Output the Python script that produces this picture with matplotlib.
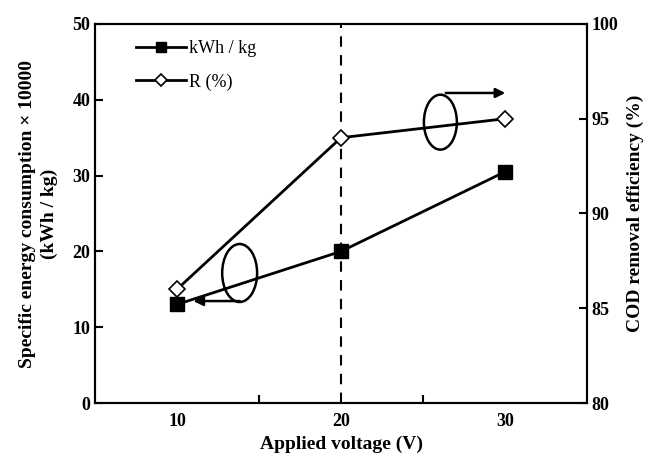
import matplotlib
matplotlib.use("Agg")
import matplotlib.pyplot as plt
from matplotlib.patches import Ellipse

plt.rcParams['font.family'] = ['Liberation Serif', 'DejaVu Serif']

voltage = ['10', '20', '30']
energy = [13.0, 20.0, 30.5]      # kWh/kg x 10000
removal = [86.0, 94.0, 95.0]     # COD removal %

fig = plt.figure(figsize=(6.47, 4.55), dpi=100)
ax = fig.add_axes([95 / 647, 52 / 455, 492 / 647, 379 / 455])
ax2 = ax.twinx()

x = list(range(len(voltage)))
ax.plot(x, energy, color='black', lw=2, marker='s', ms=10, mfc='black',
        mec='black', label='kWh / kg', zorder=3)
ax2.plot(x, removal, color='black', lw=2, marker='D', ms=8, mfc='white',
         mec='black', mew=1.2, label='R (%)', zorder=3)

ax.axvline(1, color='black', ls=(0, (5, 4)), lw=1.5)

ax.set_xlim(-0.5, 2.5)
ax.set_ylim(0, 50)
ax2.set_ylim(80, 100)
ax.set_yticks(range(0, 51, 10))
ax2.set_yticks(range(80, 101, 5))

ax.set_xticks(x)
ax.set_xticklabels(voltage)
ax.set_xticks([0.5, 1.5], minor=True)
ax.tick_params(axis='x', which='major', length=0, pad=7)
ax.tick_params(axis='x', which='minor', direction='in', length=6, width=1.5)
ax.tick_params(axis='y', direction='in', length=6, width=1.5)
ax2.tick_params(axis='y', direction='in', length=6, width=1.5)

for a in (ax, ax2):
    for s in a.spines.values():
        s.set_linewidth(1.5)
    for lab in a.get_xticklabels() + a.get_yticklabels():
        lab.set_fontweight('bold')
        lab.set_fontsize(13)

ax.set_xlabel('Applied voltage (V)', fontsize=14, fontweight='bold', labelpad=4)
ax.set_ylabel('Specific energy consumption × 10000\n(kWh / kg)',
              fontsize=14, fontweight='bold', labelpad=10, linespacing=1.35)
ax2.set_ylabel('COD removal efficiency (%)', fontsize=14, fontweight='bold',
               labelpad=6)

# ellipses with arrows pointing to their axes
ax.add_patch(Ellipse((0.294, 0.343), 0.071, 0.153, transform=ax.transAxes,
                     fill=False, lw=1.8, ec='black', zorder=4))
ax.annotate('', xy=(0.2, 0.269), xytext=(0.294, 0.269),
            xycoords='axes fraction',
            arrowprops=dict(arrowstyle='-|>', color='black', lw=1.8,
                            mutation_scale=14, shrinkA=0, shrinkB=0))
ax.add_patch(Ellipse((0.702, 0.741), 0.067, 0.145, transform=ax.transAxes,
                     fill=False, lw=1.8, ec='black', zorder=4))
ax.annotate('', xy=(0.834, 0.818), xytext=(0.713, 0.818),
            xycoords='axes fraction',
            arrowprops=dict(arrowstyle='-|>', color='black', lw=1.8,
                            mutation_scale=14, shrinkA=0, shrinkB=0))

h1, l1 = ax.get_legend_handles_labels()
h2, l2 = ax2.get_legend_handles_labels()
leg = ax2.legend(h1 + h2, l1 + l2, loc='upper left', bbox_to_anchor=(0.05, 1.0),
                 frameon=False, fontsize=13, markerscale=0.75, handlelength=2.8,
                 handletextpad=0.15, labelspacing=0.9)

fig.savefig('out.png', dpi=100)
